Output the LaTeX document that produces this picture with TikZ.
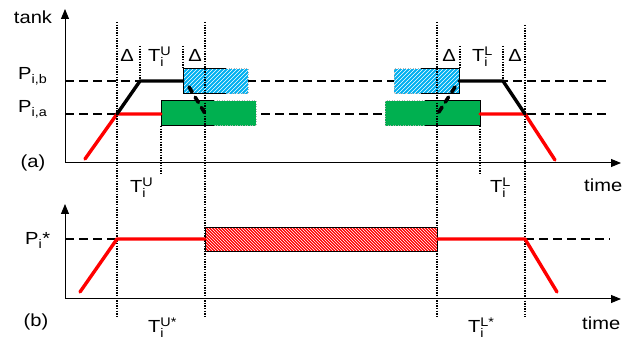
\documentclass[tikz,border=0pt]{standalone}
\usepackage{fontspec}
\setmainfont{Liberation Sans}[FakeStretch=1.15]
\usetikzlibrary{arrows.meta}
\definecolor{myblue}{RGB}{0,176,240}
\definecolor{mygreen}{RGB}{0,176,80}
\definecolor{myred}{RGB}{255,0,0}
\newcommand\Sb[1]{$_{\mbox{\fontsize{12.5}{12.5}\selectfont #1}}$}
\newcommand\SbSp[2]{$_{\mbox{\fontsize{12.5}{12.5}\selectfont #1}}^{\mbox{\fontsize{12.5}{12.5}\selectfont #2}}$}
\begin{document}
\begin{tikzpicture}[x=1pt,y=-1pt,font=\fontsize{17.5}{20}\selectfont,
  axis/.style={line width=1pt,{Triangle[length=10pt,width=8pt]}-{Triangle[length=10pt,width=8pt]}},
  level/.style={line width=1.8pt,dash pattern=on 9pt off 5pt},
  guide/.style={line width=1.4pt,dash pattern=on 1.4pt off 1.2pt},
  trace/.style={line width=3.4pt,line cap=round,line join=round},
  link/.style={line width=3.6pt,line cap=round,dash pattern=on 6pt off 6pt},
  solidedge/.style={line width=1pt,black},
  softedge/.style={line width=1pt,black!30,dash pattern=on 1pt off 1.5pt},
  hatchline/.style={white,line width=0.6pt},
  lbl/.style={inner sep=0pt,anchor=base west}]
\useasboundingbox (0,0) rectangle (622,339);

% ---------- panel (a) ----------
\coordinate (Y1) at (65,9);
\coordinate (O1) at (65,163);
\coordinate (X1) at (621,163);
\draw[axis] (Y1) -- (O1) -- (X1);

\coordinate (Lb0) at (65,81);  \coordinate (Lb1) at (610,81);
\coordinate (La0) at (65,114); \coordinate (La1) at (610,114);
\draw[level] (Lb0) -- (Lb1);
\draw[level] (La0) -- (La1);

% left boxes
\begin{scope}
  \clip (183,69) rectangle (248,94);
  \fill[myblue] (183,69) rectangle (248,94);
  \foreach \k in {150,154,...,250} \draw[hatchline] (\k,100) -- (\k+40,60);
\end{scope}
\draw[solidedge] (226,69) -- (183,69) -- (183,94) -- (226,94);
\draw[softedge] (226,69) -- (248,69) -- (248,94) -- (226,94);
\fill[mygreen] (161,101) rectangle (256,126);
\draw[solidedge] (214,101) -- (161,101) -- (161,126) -- (214,126);
\draw[softedge] (214,101) -- (256,101) -- (256,126) -- (214,126);

% right boxes
\begin{scope}
  \clip (394,69) rectangle (459,94);
  \fill[myblue] (394,69) rectangle (459,94);
  \foreach \k in {360,364,...,460} \draw[hatchline] (\k,100) -- (\k+40,60);
\end{scope}
\draw[solidedge] (421,69) -- (459,69) -- (459,94) -- (421,94);
\draw[softedge] (421,69) -- (394,69) -- (394,94) -- (421,94);
\fill[mygreen] (385,101) rectangle (480,126);
\draw[solidedge] (425,101) -- (480,101) -- (480,126) -- (425,126);
\draw[softedge] (425,101) -- (385,101) -- (385,126) -- (425,126);

% traces
\coordinate (r0) at (85,159); \coordinate (r1) at (117,114); \coordinate (r2) at (161,114);
\coordinate (k1) at (140,81); \coordinate (k2) at (183,81);
\draw[trace,myred] (r0) -- (r1) -- (r2);
\draw[trace,black] (r1) -- (k1) -- (k2);
\coordinate (s0) at (459,81); \coordinate (s1) at (503,81); \coordinate (s2) at (525,114);
\coordinate (q0) at (480,114); \coordinate (q1) at (555,160);
\draw[trace,myred] (q0) -- (s2) -- (q1);
\draw[trace,black] (s0) -- (s1) -- (s2);

\coordinate (c0) at (189,87); \coordinate (c1) at (206,115);
\coordinate (d0) at (455,87); \coordinate (d1) at (437,115);
\draw[link] (c0) -- (c1);
\draw[link] (d0) -- (d1);

% guides
\draw[guide] (117,22) -- (117,317);
\draw[guide] (205,22) -- (205,317);
\draw[guide] (437,22) -- (437,317);
\draw[guide] (525,25) -- (525,317);
\draw[guide] (140,46) -- (140,81);
\draw[guide] (183,46) -- (183,69);
\draw[guide] (460,46) -- (460,69);
\draw[guide] (503,46) -- (503,81);
\draw[guide] (161,126) -- (161,175);
\draw[guide] (480,126) -- (480,175);

% labels (a)
\node[inner sep=0pt] (tank) at (33,17) {tank};
\node[lbl] (Pb) at (18,80) {P\Sb{i,b}};
\node[lbl] (Pa) at (18,113) {P\Sb{i,a}};
\node[inner sep=0pt] (la) at (33,163) {(a)};
\node[inner sep=0pt,anchor=base] (D1) at (127,62) {Δ};
\node[lbl] (TU1) at (148,62) {T\SbSp{i}{U}};
\node[inner sep=0pt,anchor=base] (D2) at (195,62) {Δ};
\node[inner sep=0pt,anchor=base] (D3) at (449,62) {Δ};
\node[lbl] (TL1) at (472,62) {T\SbSp{i}{L}};
\node[inner sep=0pt,anchor=base] (D4) at (515,62) {Δ};
\node[lbl] (TU2) at (130,193) {T\SbSp{i}{U}};
\node[lbl] (TL2) at (490,193) {T\SbSp{i}{L}};
\node[lbl] (time1) at (584,192) {time};

% ---------- panel (b) ----------
\coordinate (Y2) at (65,204);
\coordinate (O2) at (65,299);
\coordinate (X2) at (621,299);
\draw[axis] (Y2) -- (O2) -- (X2);

\draw[level] (65,239) -- (117,239);
\draw[level] (525,239) -- (610,239);

\begin{scope}
  \clip (205,228) rectangle (437,252);
  \fill[myred] (205,228) rectangle (437,252);
  \foreach \k in {170,173,...,440} \draw[white,line width=0.55pt] (\k,220) -- (\k+40,260);
\end{scope}
\draw[solidedge] (205,228) rectangle (437,252);

\coordinate (b0) at (80,292); \coordinate (b1) at (117,239); \coordinate (b2) at (205,239);
\coordinate (b3) at (437,239); \coordinate (b4) at (525,239); \coordinate (b5) at (557,292);
\draw[trace,myred] (b0) -- (b1) -- (b2);
\draw[trace,myred] (b3) -- (b4) -- (b5);

\node[lbl] (Ps) at (25,245) {P\Sb{i}*};
\node[inner sep=0pt] (lb) at (36,322) {(b)};
\node[lbl] (TU3) at (148,333) {T\SbSp{i}{U*}};
\node[lbl] (TL3) at (468,333) {T\SbSp{i}{L*}};
\node[lbl] (time2) at (582,330) {time};
\end{tikzpicture}
\end{document}
